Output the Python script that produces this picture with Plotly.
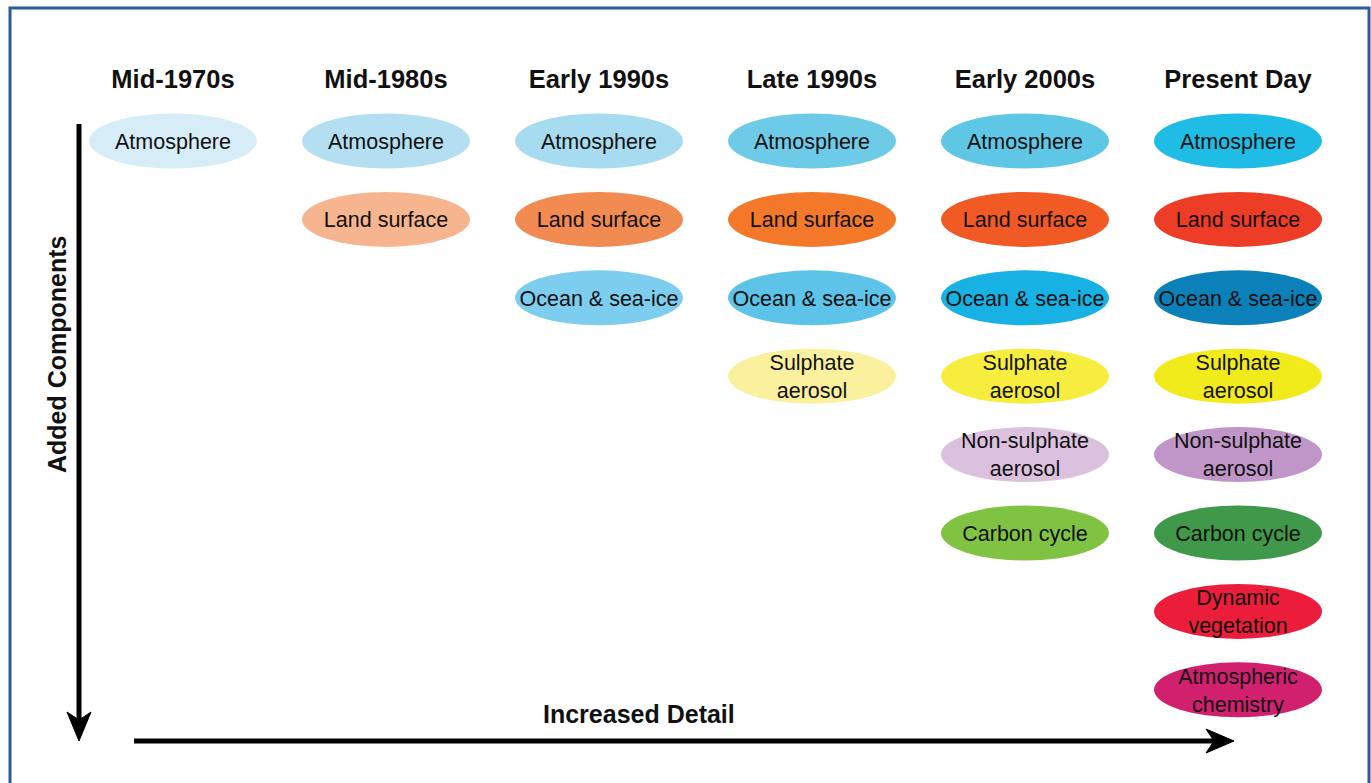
import plotly.graph_objects as go

# --- data ---------------------------------------------------------------
eras = ["Mid-1970s", "Mid-1980s", "Early 1990s", "Late 1990s", "Early 2000s", "Present Day"]
components = [
    "Atmosphere",
    "Land surface",
    "Ocean & sea-ice",
    "Sulphate<br>aerosol",
    "Non-sulphate<br>aerosol",
    "Carbon cycle",
    "Dynamic<br>vegetation",
    "Atmospheric<br>chemistry",
]
components_per_era = [1, 2, 3, 4, 6, 8]
era_colors = [
    ["#d6edf8"],
    ["#b4dff1", "#f7b58f"],
    ["#a6dbf0", "#f28b51", "#7dcdee"],
    ["#6ecbe8", "#f3782a", "#5ec3e9", "#fbf09e"],
    ["#5ec7e5", "#f15a24", "#17b2e3", "#f7ed3e", "#dcc1df", "#80c343"],
    ["#1fbde6", "#ee3d26", "#0b80b9", "#f1eb1c", "#c095c7", "#40994a", "#ec1d3b", "#d0206e"],
]

# --- layout constants (pixel space) --------------------------------------
W, H = 1371, 783
COL_X0, COL_DX = 173, 213
ROW_Y0, ROW_DY = 141, 78.4
ELL_W, ELL_H = 168, 55
TITLE_Y = 82
FONT = "Liberation Sans, Arial, sans-serif"

fig = go.Figure()
shapes = []

xs, ys, labels = [], [], []
for i, (era, n) in enumerate(zip(eras, components_per_era)):
    cx = COL_X0 + i * COL_DX
    for j in range(n):
        cy = ROW_Y0 + j * ROW_DY
        shapes.append(
            dict(
                type="circle",
                xref="x",
                yref="y",
                x0=cx - ELL_W / 2,
                x1=cx + ELL_W / 2,
                y0=cy - ELL_H / 2,
                y1=cy + ELL_H / 2,
                fillcolor=era_colors[i][j],
                line=dict(width=0),
                layer="below",
            )
        )
        xs.append(cx)
        ys.append(cy + 2.5)
        labels.append(components[j])

fig.add_trace(
    go.Scatter(
        x=xs,
        y=ys,
        mode="text",
        text=labels,
        textposition="middle center",
        textfont=dict(family=FONT, size=21.5, color="#111111"),
        hoverinfo="skip",
        showlegend=False,
    )
)

fig.add_trace(
    go.Scatter(
        x=[COL_X0 + i * COL_DX for i in range(len(eras))],
        y=[TITLE_Y] * len(eras),
        mode="text",
        text=[f"<b>{e}</b>" for e in eras],
        textposition="middle center",
        textfont=dict(family=FONT, size=25.5, color="#111111"),
        hoverinfo="skip",
        showlegend=False,
    )
)

# frame
shapes.append(dict(type="rect", xref="x", yref="y", x0=10, x1=1369, y0=8, y1=800,
                   line=dict(color="#2b5c9e", width=3), fillcolor="rgba(0,0,0,0)"))

# vertical arrow
shapes.append(dict(type="line", xref="x", yref="y", x0=79, x1=79, y0=124, y1=726,
                   line=dict(color="#000000", width=5)))
shapes.append(dict(type="path", xref="x", yref="y",
                   path="M 79 741 L 67 712 L 79 720 L 91 712 Z",
                   fillcolor="#000000", line=dict(color="#000000", width=1)))

# horizontal arrow
shapes.append(dict(type="line", xref="x", yref="y", x0=134, x1=1220, y0=741, y1=741,
                   line=dict(color="#000000", width=5)))
shapes.append(dict(type="path", xref="x", yref="y",
                   path="M 1234 741 L 1206 729 L 1214 741 L 1206 753 Z",
                   fillcolor="#000000", line=dict(color="#000000", width=1)))

fig.add_annotation(x=57, y=354, xref="x", yref="y", text="<b>Added Components</b>",
                   textangle=-90, showarrow=False,
                   font=dict(family=FONT, size=25, color="#111111"))
fig.add_annotation(x=639, y=714, xref="x", yref="y", text="<b>Increased Detail</b>",
                   showarrow=False, font=dict(family=FONT, size=25, color="#111111"))

fig.update_layout(
    width=W,
    height=H,
    margin=dict(l=0, r=0, t=0, b=0),
    plot_bgcolor="#ffffff",
    paper_bgcolor="#ffffff",
    shapes=shapes,
    showlegend=False,
)
fig.update_xaxes(range=[0, W], visible=False, fixedrange=True)
fig.update_yaxes(range=[H, 0], visible=False, fixedrange=True)

# drop the browser's default 8px body margin so the figure sits at the page origin
fig.write_html(
    "out.html",
    config={"displayModeBar": False},
    post_script="document.body.style.margin='0';document.body.style.overflow='hidden';",
)
